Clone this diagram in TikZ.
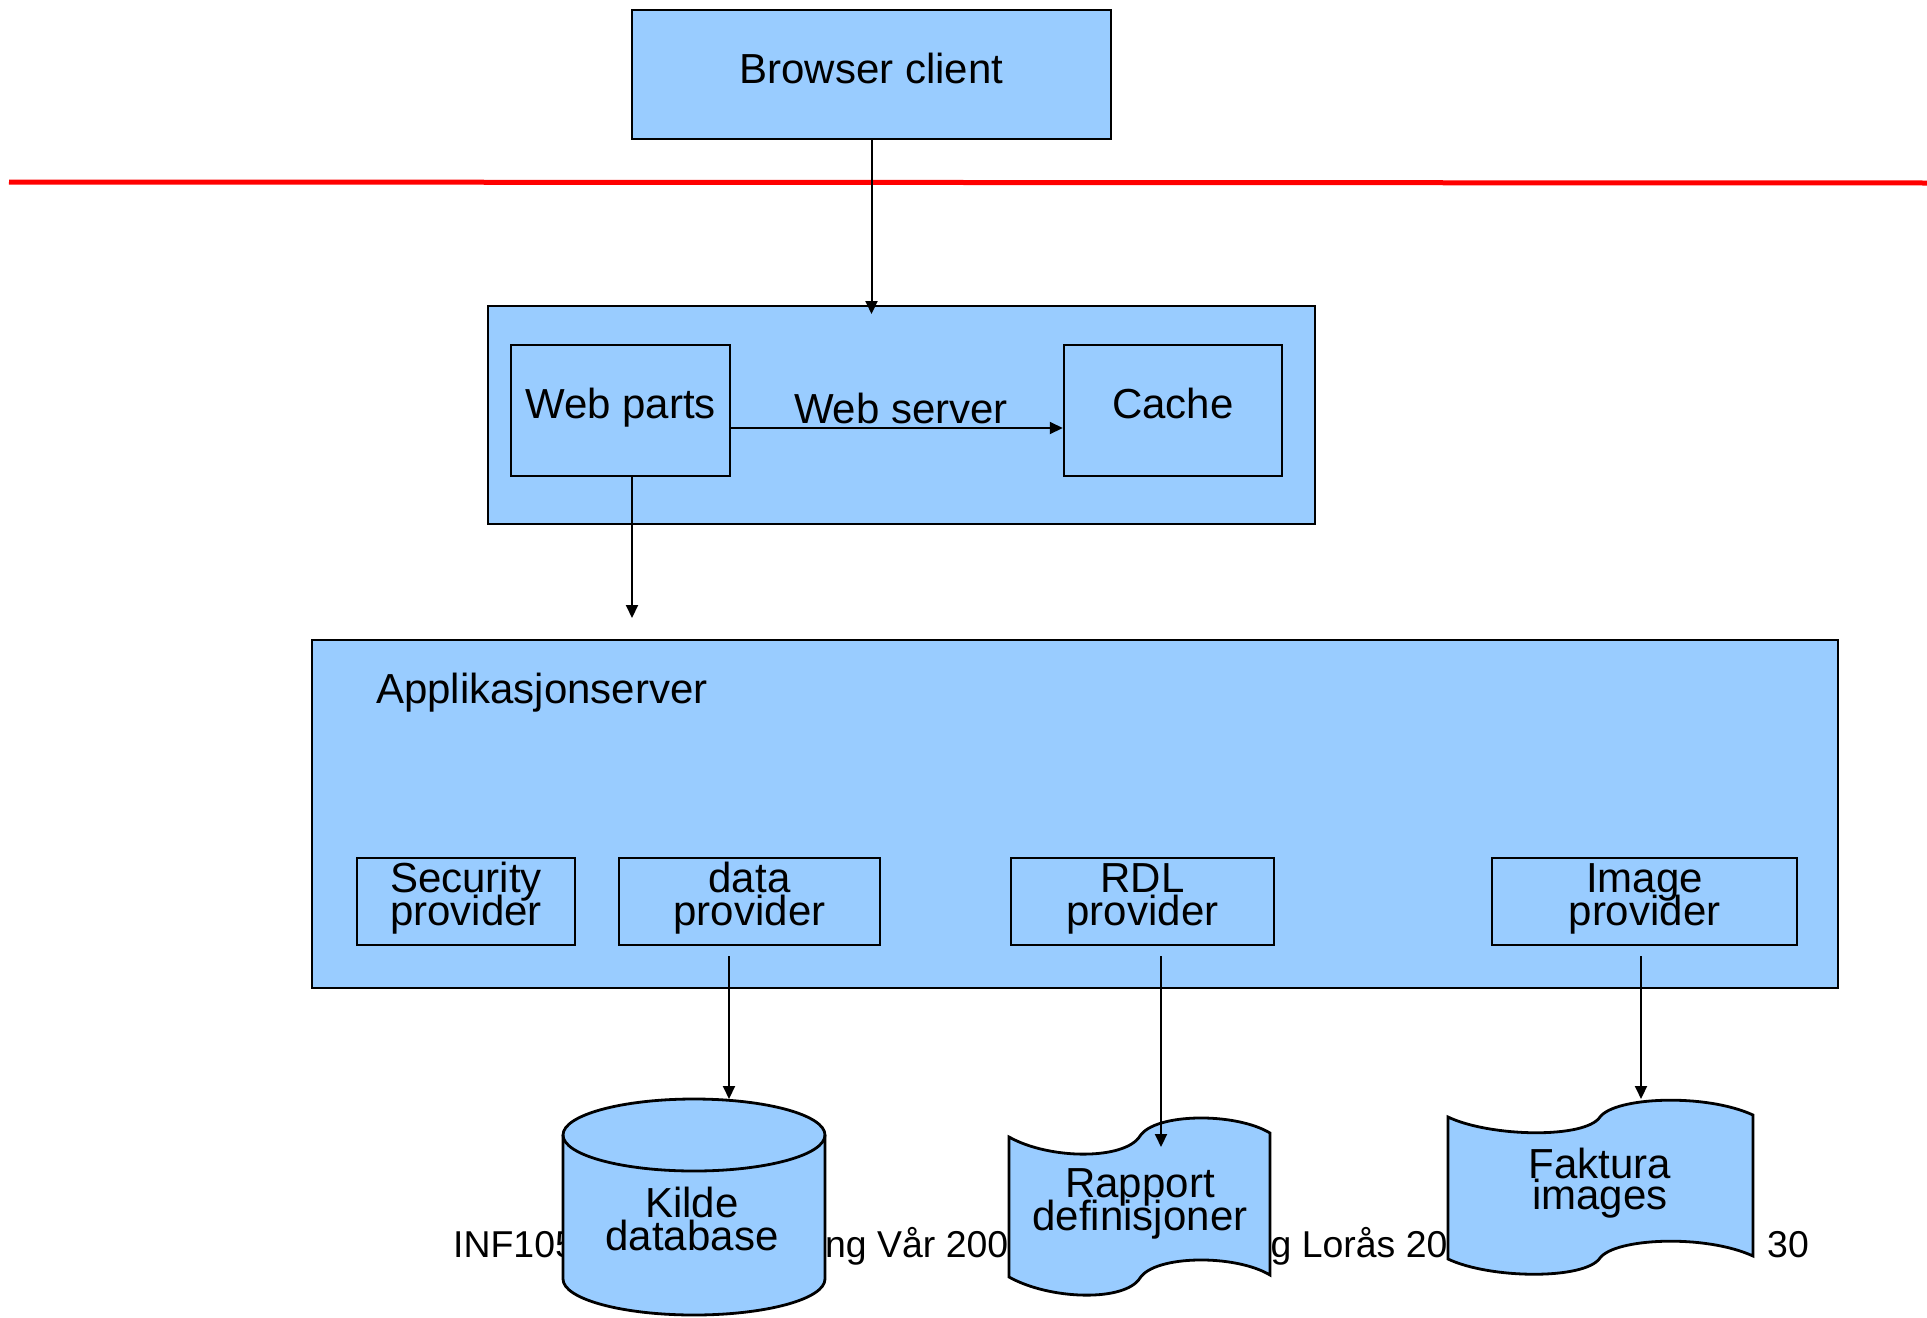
\documentclass[tikz,border=0pt]{standalone}
\usepackage{fontspec}
\setmainfont{Liberation Sans}
\usetikzlibrary{arrows.meta}
\definecolor{boxblue}{HTML}{99CCFF}
\newcommand\mystrut[2]{\rule[-#2pt]{0pt}{\dimexpr #1pt + #2pt\relax}}
\begin{document}
\begin{tikzpicture}[x=1pt,y=-1pt,
  bigfont/.style={font={\fontsize{42pt}{#1pt}\selectfont\lineskiplimit=-100pt\lineskip=0pt}},
  bigfont/.default=33,
  box/.style={draw=black, line width=2.5pt, fill=boxblue, inner sep=0pt, align=center, bigfont},
  shp/.style={draw=black, line width=2.8pt, fill=boxblue},
  arr/.style={draw=black, line width=2pt, -{Triangle[length=13pt,width=12pt]}},
  foot/.style={font=\fontsize{37.4pt}{40pt}\selectfont, inner sep=0pt, anchor=base west}]
\useasboundingbox (0,0) rectangle (1927,1317);

% footer (partly hidden behind the storage shapes)
\node[foot] (f1) at (453,1257) {INF1050 Systemutvikling Vår 2009};
\node[foot] (f2) at (1152,1257) {Henning Lorås 2009};
\node[foot] (f3) at (1767,1257) {30};

% separator line
\coordinate (rl) at (9,182);
\coordinate (rr) at (1927,183);
\draw[red, line width=5pt] (rl) -- (rr);

% browser client
\node[box, minimum width=479pt, minimum height=129pt] (bc) at (871.5,74.5) {\mystrut{32}{15}Browser client};

% web server
\node[box, minimum width=827pt, minimum height=218pt] (ws) at (901.5,415) {};
\node[box, minimum width=219pt, minimum height=131pt] (wp) at (620.5,410.5) {\mystrut{32}{17}Web parts};
\node[box, minimum width=218pt, minimum height=131pt] (ca) at (1173,410.5) {\mystrut{32}{17}Cache};
\coordinate (wsin) at (872,314);
\draw[arr] (bc.south) -- (bc.south |- wsin);
\draw[arr] ([yshift=-17.5pt]wp.east) -- node[midway, above=3pt, inner sep=0pt, xshift=4pt, bigfont] (wslabel) {Web server} ([yshift=-17.5pt]ca.west);
\coordinate (wpend) at (632,618);
\draw[arr] (wp.south -| wpend) -- (wpend);

% application server
\node[box, minimum width=1526pt, minimum height=348pt] (as) at (1075,814) {};
\node[bigfont, inner sep=0pt, anchor=base west] (aslabel) at (376,703) {Applikasjonserver};
\node[box, minimum width=218pt, minimum height=87pt] (sp) at (466,901.5) {\mystrut{32}{0}Security\\provider\mystrut{0}{18}};
\node[box, minimum width=261pt, minimum height=87pt] (dp) at (749.5,901.5) {\mystrut{32}{0}data\\provider\mystrut{0}{18}};
\node[box, minimum width=263pt, minimum height=87pt] (rp) at (1142.5,901.5) {\mystrut{32}{0}RDL\\provider\mystrut{0}{18}};
\node[box, minimum width=305pt, minimum height=87pt] (ip) at (1644.5,901.5) {\mystrut{32}{0}Image\\provider\mystrut{0}{18}};

% Kilde database (cylinder)
\filldraw[shp] (563,1135) -- (563,1279) arc[start angle=180, end angle=360, x radius=131pt, y radius=36pt]
  -- (825,1135) arc[start angle=0, end angle=180, x radius=131pt, y radius=36pt] -- cycle;
\draw[shp, fill=none] (563,1135) arc[start angle=180, end angle=360, x radius=131pt, y radius=36pt];
\node[bigfont, inner sep=0pt, align=center] (kd) at (692,1222.5) {\mystrut{32}{0}Kilde\\database\mystrut{0}{10}};

% Rapport definisjoner (tape)
\filldraw[shp] (1009,1137) .. controls (1050,1160) and (1125,1160) .. (1140,1136)
  .. controls (1155,1113) and (1235,1112) .. (1270,1133) -- (1270,1275)
  .. controls (1235,1254) and (1155,1255) .. (1140,1278)
  .. controls (1125,1302) and (1050,1300) .. (1009,1277) -- cycle;
\node[bigfont, inner sep=0pt, align=center] (rd) at (1140,1202.5) {\mystrut{32}{0}Rapport\\definisjoner\mystrut{0}{10}};

% Faktura images (tape)
\filldraw[shp] (1448,1117) .. controls (1490,1137) and (1585,1139) .. (1600,1117)
  .. controls (1615,1097) and (1705,1093) .. (1753,1115) -- (1753,1256)
  .. controls (1705,1234) and (1615,1238) .. (1600,1258)
  .. controls (1585,1280) and (1490,1279) .. (1448,1259) -- cycle;
\node[bigfont=31, inner sep=0pt, align=center] (fi) at (1600,1182.5) {\mystrut{32}{0}Faktura\\images\mystrut{0}{10}};

% provider connectors
\coordinate (dps) at (729,956);
\coordinate (dpt) at (729,1099);
\coordinate (rps) at (1161,956);
\coordinate (rpt) at (1161,1147);
\coordinate (ips) at (1641,956);
\coordinate (ipt) at (1641,1099);
\draw[arr] (dps) -- (dpt);
\draw[arr] (rps) -- (rpt);
\draw[arr] (ips) -- (ipt);
\end{tikzpicture}
\end{document}
